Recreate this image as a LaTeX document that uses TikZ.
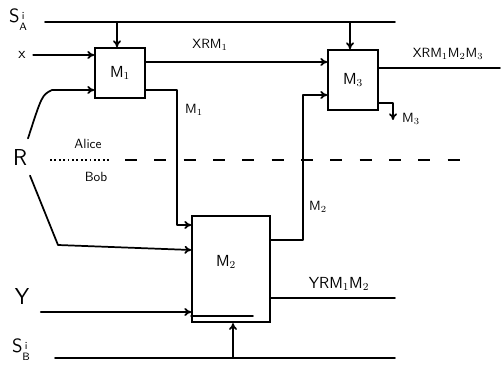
\documentclass[tikz,border=0pt]{standalone}
\usetikzlibrary{arrows.meta}
\newcommand{\supsub}[1]{\raisebox{-6pt}{\footnotesize\shortstack{i\\#1}}}
\begin{document}
\begin{tikzpicture}[x=0.75pt,y=-0.75pt,
  wire/.style={line width=1.3pt,line cap=round,line join=round},
  arr/.style={wire,-{To[length=5pt,width=6pt]}},
  box/.style={draw,line width=1.3pt,inner sep=0pt},
  lbl/.style={inner sep=1pt,font=\sffamily}]
\useasboundingbox (0,0) rectangle (503,366);
% boxes
\node[box,minimum width=37.5pt,minimum height=37.5pt] (m1) at (120,73) {};
\node[lbl,font=\sffamily\large] at (m1) {M$_1$};
\node[box,minimum width=37.5pt,minimum height=45pt] (m3) at (353,80) {};
\node[lbl,font=\sffamily\large] at (m3) {M$_3$};
\node[box,minimum width=58.5pt,minimum height=80pt] (m2) at (231,269) {};
\node[lbl,font=\sffamily\large] at (226,262) {M$_2$};
% labels
\node[lbl,font=\sffamily\Large] (sa) at (18,20) {S\supsub{A}};
\node[lbl,font=\sffamily\large] (x) at (22,55) {x};
\node[lbl,font=\sffamily\LARGE] (r) at (20,158) {R};
\node[lbl,font=\sffamily\LARGE] (y) at (22,297) {Y};
\node[lbl,font=\sffamily\Large] (sb) at (21,350) {S\supsub{B}};
\node[lbl,font=\sffamily] at (88,144) {Alice};
\node[lbl,font=\sffamily] at (96,177) {Bob};
\node[lbl,font=\sffamily] at (210,45) {XRM$_1$};
\node[lbl,font=\sffamily] at (194,110) {M$_1$};
\node[lbl,font=\sffamily] at (318,207) {M$_2$};
\node[lbl,font=\sffamily\large] at (339,284) {YRM$_1$M$_2$};
\node[lbl,font=\sffamily] at (448,54) {XRM$_1$M$_2$M$_3$};
\node[lbl,font=\sffamily] at (411,119) {M$_3$};
% coordinates
\coordinate (saL) at (45,22);
\coordinate (saR) at (395,22);
\coordinate (sbL) at (55,358);
\coordinate (sbR) at (395,358);
% S_A line
\draw[wire] (saL) -- (saR);
\draw[arr] (117,22) -- (m1.north -| 117,0);
\draw[arr] (350,22) -- (m3.north -| 350,0);
% x into M1
\draw[arr] (x.east) ++(6,0) -- (m1.west |- 0,55);
% R to M1
\draw[arr] (r.north) ++(8,-10) .. controls (42,95) .. (52,90) -- (m1.west |- 0,90);
% R to M2
\draw[arr] (r.south) ++(10,8) -- (58,245) -- (m2.west |- 0,250);
% dotted/dashed line
\draw[line width=1.3pt,dotted] (50,160) -- (110,160);
\draw[line width=1.3pt,dash pattern=on 9pt off 13pt] (125,160) -- (470,160);
% M1 -> M3
\draw[arr] (m1.east |- 0,62) -- (m3.west |- 0,62);
% M1 -> M2
\draw[arr] (m1.east |- 0,90) -- (177,90) -- (177,225) -- (m2.west |- 0,225);
% M2 -> M3
\draw[arr] (m2.east |- 0,240) -- (303,240) -- (303,95) -- (m3.west |- 0,95);
% M2 output
\draw[wire] (m2.east |- 0,298) -- (395,298);
% M3 output
\draw[wire] (m3.east |- 0,68) -- (500,68);
\draw[arr] (m3.east |- 0,103) -- (393,103) -- (393,120);
% Y into M2
\draw[arr] (y.east) ++(10,15) -- (m2.west |- 0,312);
\draw[wire] (m2.west |- 0,316) -- (253,316);
% S_B line
\draw[wire] (sbL) -- (sbR);
\draw[arr] (233,358) -- (m2.south -| 233,0);
\end{tikzpicture}
\end{document}
